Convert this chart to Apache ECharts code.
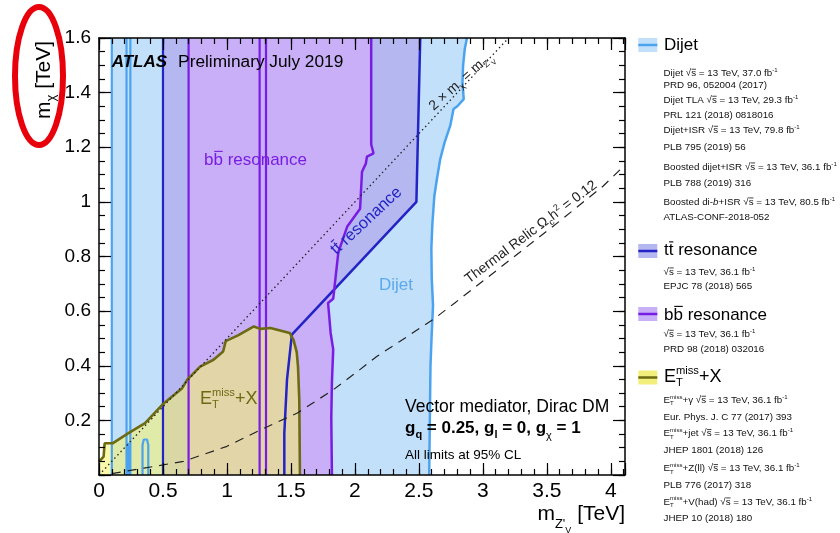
<!DOCTYPE html>
<html><head><meta charset="utf-8">
<script src="https://cdn.jsdelivr.net/npm/echarts@6/dist/echarts.min.js"></script>
<style>html,body{margin:0;padding:0;background:#fff}#c{width:840px;height:533px}</style>
</head><body><div id="c"></div>
<script>
// ---------------- data (TeV) ----------------
const X_MAX = 4.11, Y_MAX = 1.6;
const xTickMajor = 0.5, xTickMinor = 0.1, yTickMajor = 0.2, yTickMinor = 0.05;

// Dijet exclusion: right-hand contour (mZ', mchi)
const dijetEdge = [[2.875,1.6],[2.858,1.56],[2.845,1.5],[2.84,1.437],[2.85,1.376],[2.80,1.35],[2.77,1.34],[2.745,1.28],[2.70,1.217],[2.666,1.156],[2.64,1.083],[2.62,1.02],[2.605,0.92],[2.597,0.83],[2.60,0.72],[2.61,0.62],[2.60,0.52],[2.59,0.40],[2.585,0.2],[2.58,0]];
const dijetLeft = 0.1;
const dijetLinesX = [0.1, 0.215, 0.245];
const dijetLoopA = [[0.222,0],[0.222,0.1],[0.228,0.117],[0.235,0.1],[0.238,0]];
const dijetLoopB = [[0.34,0],[0.34,0.11],[0.35,0.13],[0.362,0.136],[0.375,0.13],[0.385,0.11],[0.385,0]];

// ttbar resonance
const ttLeft = 0.5;
const ttEdge = [[2.51,1.6],[2.48,1.0],[1.507,0.514],[1.469,0.349],[1.448,0.153],[1.448,0]];
const ttLinesX = [0.5];

// bbbar resonance
const bbLeft = 0.7;
const bbEdge = [[2.127,1.6],[2.127,1.21],[2.145,1.178],[2.094,1.166],[2.085,1.14],[2.055,1.11],[2.04,0.975],[1.94,0.91],[1.87,0.815],[1.85,0.73],[1.83,0.645],[1.79,0.63],[1.81,0.52],[1.83,0.46],[1.82,0.34],[1.815,0.21],[1.82,0]];
const bbLinesX = [0.7, 1.255, 1.305];

// ETmiss + X
const metEdge = [[0,0.049],[0.036,0.067],[0.044,0.116],[0.106,0.116],[0.23,0.153],[0.36,0.19],[0.505,0.262],[0.65,0.318],[0.69,0.349],[0.79,0.397],[0.895,0.422],[0.97,0.452],[0.99,0.49],[1.09,0.512],[1.21,0.544],[1.26,0.535],[1.34,0.538],[1.49,0.52],[1.52,0.495],[1.545,0.45],[1.555,0.397],[1.565,0.275],[1.57,0]];

// thermal relic curve and 2*mchi = mZ' line
const relicCurve = [[0.1,0.005],[0.35,0.025],[0.66,0.05],[1.0,0.105],[1.26,0.165],[1.55,0.227],[1.83,0.312],[2.02,0.379],[2.17,0.434],[2.35,0.489],[2.61,0.569],[2.78,0.63],[3.0,0.71],[3.3,0.82],[3.6,0.93],[3.94,1.058],[4.11,1.135]];
const kinematicLine = [[0,0],[3.2,1.6]];

// ---------------- style ----------------
const C = {
  dijetFill:'#c3e0fa', dijetLine:'#4ba3ef', dijetText:'#5aa9f0',
  ttFill:'#b5b7f1', ttLine:'#2323c6',
  bbFill:'#c8aff7', bbLine:'#7a1de4',
  metFill:'rgba(246,242,105,0.56)', metLine:'#6c6a12', metSwatch:'#f3ef7c'
};
const FONT = '"Liberation Sans", Arial, Helvetica, sans-serif';
const mctx = document.createElement('canvas').getContext('2d');
function tw(t, s, w, i) { mctx.font = (i||'normal') + ' ' + (w||'normal') + ' ' + s + 'px ' + FONT; return mctx.measureText(t).width; }

function rich(x, y, parts, o) {
  o = o || {};
  const kids = []; let cx = 0, prevStart = 0;
  parts.forEach(p => {
    if (p.gap) { cx += p.gap; return; }
    const s = p.s || o.s, w = p.w || o.w || 'normal', it = p.i || o.i || 'normal', c = p.c || o.c || '#000';
    const px = p.stack ? prevStart : cx;
    const wd = tw(p.t, s, w, it);
    const by = p.dy || 0;
    kids.push({type:'text', x:px, y:by - 0.3465*s, z:100, style:{text:p.t, font: it + ' ' + w + ' ' + s + 'px ' + FONT, fill:c, textAlign:'left', textVerticalAlign:'middle', align:'left', verticalAlign:'middle'}});
    if (p.ov) {
      const oy = by - p.ov*s;
      kids.push({type:'line', z:100, shape:{x1:px + 0.08*wd, y1:oy, x2:px + wd*0.98, y2:oy}, style:{stroke:c, lineWidth:Math.max(0.8, s*0.065)}});
    }
    if (p.stack) { cx = Math.max(cx, px + wd); } else { prevStart = px; cx = px + wd; }
  });
  let shift = 0;
  if (o.align === 'right') shift = -cx; else if (o.align === 'center') shift = -cx/2;
  kids.forEach(k => { if (k.type === 'text') k.x += shift; else { k.shape.x1 += shift; k.shape.x2 += shift; } });
  return {type:'group', x:x, y:y, rotation:(o.rot||0)*Math.PI/180, children:kids, z:100};
}
function sqrtS(s) { return [{t:'√', s:s}, {t:'s', s:s, ov:0.74}]; }
function fbInv(s) { return [{t:' fb', s:s}, {t:'-1', s:s*0.62, dy:-0.42*s}]; }
function etmiss(s) { return [{t:'E', s:s}, {t:'miss', s:s*0.62, dy:-0.45*s}, {t:'T', s:s*0.62, dy:0.22*s, stack:true}]; }

// ---------------- series builders ----------------
function polySeries(pts, fill, z) {
  return {type:'custom', data:pts, z:z, silent:true, clip:true, xAxisIndex:0, yAxisIndex:0,
    renderItem:function(params, api) {
      if (params.dataIndex !== 0) return null;
      return {type:'polygon', shape:{points:pts.map(p => api.coord(p))}, style:{fill:fill}};
    }};
}
function lineSeries(pts, color, width, z, type) {
  return {type:'line', data:pts, z:z, silent:true, symbol:'none', showSymbol:false, clip:true, xAxisIndex:0, yAxisIndex:0,
    lineStyle:{color:color, width:width, type:type||'solid', cap:'butt'}, animation:false};
}
function vline(x) { return [[x,0],[x,Y_MAX]]; }

const series = [
  polySeries([[dijetLeft,0],[dijetLeft,Y_MAX]].concat(dijetEdge), C.dijetFill, 1),
  polySeries([[ttLeft,0],[ttLeft,Y_MAX]].concat(ttEdge), C.ttFill, 2),
  polySeries([[bbLeft,0],[bbLeft,Y_MAX]].concat(bbEdge), C.bbFill, 3),
  polySeries([[0,0]].concat(metEdge), C.metFill, 4)
];
dijetLinesX.forEach(x => series.push(lineSeries(vline(x), C.dijetLine, 2.2, 5)));
series.push(lineSeries(dijetLoopA, C.dijetLine, 2.2, 5));
series.push(lineSeries(dijetLoopB, C.dijetLine, 2.2, 5));
series.push(lineSeries(dijetEdge, C.dijetLine, 2.5, 5));
ttLinesX.forEach(x => series.push(lineSeries(vline(x), C.ttLine, 2.2, 6)));
series.push(lineSeries(ttEdge, C.ttLine, 2.5, 6));
bbLinesX.forEach(x => series.push(lineSeries(vline(x), C.bbLine, 2.2, 6)));
series.push(lineSeries(bbEdge, C.bbLine, 2.5, 6));
series.push(lineSeries(metEdge, C.metLine, 2.6, 7));
series.push(lineSeries(kinematicLine, '#222', 1.3, 8, [1.5,3]));
series.push(lineSeries(relicCurve, '#222', 1.2, 8, [9,7]));

// ---------------- axes ----------------
function xAx(pos, interval, len, labels, line) {
  return {type:'value', min:0, max:X_MAX, interval:interval, position:pos, gridIndex:0, z:9,
    axisLine:{show:line, onZero:false, lineStyle:{color:'#000', width:1.5}},
    axisTick:{show:true, inside:true, length:len, lineStyle:{color:'#000', width:1.2}},
    axisLabel:{show:labels, fontSize:21, fontFamily:FONT, color:'#000', margin:6,
      formatter:function(v){ return Math.abs(v*2 - Math.round(v*2)) < 1e-6 ? String(+v.toFixed(2)) : ''; }},
    splitLine:{show:false}};
}
function yAx(pos, interval, len, labels, line) {
  return {type:'value', min:0, max:Y_MAX, interval:interval, position:pos, gridIndex:0, z:9,
    axisLine:{show:line, onZero:false, lineStyle:{color:'#000', width:1.5}},
    axisTick:{show:true, inside:true, length:len, lineStyle:{color:'#000', width:1.2}},
    axisLabel:{show:labels, fontSize:19, fontFamily:FONT, color:'#000', margin:8,
      formatter:function(v){ return v === 0 ? '' : String(+v.toFixed(2)); }},
    splitLine:{show:false}};
}

// ---------------- texts ----------------
const g = [];
// red ellipse around y title
g.push({type:'ellipse', shape:{cx:39, cy:76, rx:24, ry:69}, style:{fill:'none', stroke:'#e8000b', lineWidth:6}, z:100});
// axis titles
g.push(rich(51, 119, [{t:'m', s:21}, {t:'χ', s:13, dy:5}, {t:' [TeV]', s:21}], {rot:90}));
g.push(rich(625, 521.5, [{t:'m', s:21}, {t:"Z'", s:13, dy:7}, {t:'V', s:9, dy:12}, {t:' [TeV]', s:21}], {align:'right'}));
// header
g.push(rich(111.7, 67.8, [{t:'ATLAS', s:17, w:'bold', i:'italic'}, {gap:11}, {t:'Preliminary July 2019', s:17.3}]));
// region labels
g.push(rich(204, 166, [{t:'b', s:17}, {t:'b', s:17, ov:0.86}, {t:' resonance', s:17}], {c:C.bbLine}));
g.push(rich(379, 291, [{t:'Dijet', s:17}], {c:C.dijetText}));
g.push(rich(200, 405, etmiss(18).concat([{t:'+X', s:18}]), {c:C.metLine}));
g.push(rich(337, 256, [{t:'t', s:16.5}, {t:'t', s:16.5, ov:0.86}, {t:' resonance', s:16.5}], {c:C.ttLine, rot:43}));
g.push(rich(464, 85, [{t:'2 × m', s:14}, {t:'χ', s:9, dy:3}, {t:' = m', s:14}, {t:"Z'", s:9, dy:3}, {t:'V', s:7, dy:6}], {c:'#222', rot:42, align:'center'}));
g.push(rich(534, 236, [{t:'Thermal Relic Ω', s:14}, {t:'c', s:9, dy:3}, {t:'h', s:14}, {t:'2', s:9, dy:-6}, {t:' = 0.12', s:14}], {c:'#222', rot:37, align:'center'}));
// info block
g.push(rich(405, 413, [{t:'Vector mediator, Dirac DM', s:17.5}]));
g.push(rich(405, 434, [{t:'g', s:17, w:'bold'}, {t:'q', s:11, w:'bold', dy:5}, {t:' = 0.25, g', s:17, w:'bold'}, {t:'l', s:11, w:'bold', dy:5},
  {t:' = 0, g', s:17, w:'bold'}, {t:'χ', s:11, dy:6}, {t:' = 1', s:17, w:'bold'}]));
g.push(rich(405, 460, [{t:'All limits at 95% CL', s:13.5}]));

// legend
function swatch(cy, fill, line) {
  g.push({type:'rect', shape:{x:638.3, y:cy-7, width:19, height:14}, style:{fill:fill}, z:100});
  g.push({type:'line', shape:{x1:638.3, y1:cy, x2:657.3, y2:cy}, style:{stroke:line, lineWidth:2.5}, z:101});
}
const LX = 663.5, SS = 9.8;
function small(cy, parts) { g.push(rich(LX, cy + 3.5, parts, {s:SS, c:'#111'})); }
swatch(45, C.dijetFill, C.dijetLine);
g.push(rich(664, 51, [{t:'Dijet', s:17}]));
small(73, [{t:'Dijet ', s:SS}].concat(sqrtS(SS), [{t:' = 13 TeV, 37.0', s:SS}], fbInv(SS)));
small(85, [{t:'PRD 96, 052004 (2017)', s:SS}]);
small(100, [{t:'Dijet TLA ', s:SS}].concat(sqrtS(SS), [{t:' = 13 TeV, 29.3', s:SS}], fbInv(SS)));
small(115, [{t:'PRL 121 (2018) 0818016', s:SS}]);
small(130, [{t:'Dijet+ISR ', s:SS}].concat(sqrtS(SS), [{t:' = 13 TeV, 79.8', s:SS}], fbInv(SS)));
small(146.7, [{t:'PLB 795 (2019) 56', s:SS}]);
small(166.7, [{t:'Boosted dijet+ISR ', s:SS}].concat(sqrtS(SS), [{t:' = 13 TeV, 36.1', s:SS}], fbInv(SS)));
small(183, [{t:'PLB 788 (2019) 316', s:SS}]);
small(201.7, [{t:'Boosted di-', s:SS}, {t:'b', s:SS, i:'italic'}, {t:'+ISR ', s:SS}].concat(sqrtS(SS), [{t:' = 13 TeV, 80.5', s:SS}], fbInv(SS)));
small(216.7, [{t:'ATLAS-CONF-2018-052', s:SS}]);

swatch(251, C.ttFill, C.ttLine);
g.push(rich(664, 256.5, [{t:'t', s:17}, {t:'t', s:17, ov:0.86}, {t:' resonance', s:17}]));
small(271.7, sqrtS(SS).concat([{t:' = 13 TeV, 36.1', s:SS}], fbInv(SS)));
small(285.7, [{t:'EPJC 78 (2018) 565', s:SS}]);

swatch(314, C.bbFill, C.bbLine);
g.push(rich(664, 321, [{t:'b', s:17}, {t:'b', s:17, ov:0.86}, {t:' resonance', s:17}]));
small(334, sqrtS(SS).concat([{t:' = 13 TeV, 36.1', s:SS}], fbInv(SS)));
small(349, [{t:'PRD 98 (2018) 032016', s:SS}]);

swatch(377.5, C.metSwatch, C.metLine);
g.push(rich(664, 383.3, etmiss(18).concat([{t:'+X', s:18}])));
small(400, etmiss(SS).concat([{t:'+γ ', s:SS}], sqrtS(SS), [{t:' = 13 TeV, 36.1', s:SS}], fbInv(SS)));
small(416.7, [{t:'Eur. Phys. J. C 77 (2017) 393', s:SS}]);
small(433.3, etmiss(SS).concat([{t:'+jet ', s:SS}], sqrtS(SS), [{t:' = 13 TeV, 36.1', s:SS}], fbInv(SS)));
small(450, [{t:'JHEP 1801 (2018) 126', s:SS}]);
small(468.3, etmiss(SS).concat([{t:'+Z(ll) ', s:SS}], sqrtS(SS), [{t:' = 13 TeV, 36.1', s:SS}], fbInv(SS)));
small(485, [{t:'PLB 776 (2017) 318', s:SS}]);
small(501.7, etmiss(SS).concat([{t:'+V(had) ', s:SS}], sqrtS(SS), [{t:' = 13 TeV, 36.1', s:SS}], fbInv(SS)));
small(518.3, [{t:'JHEP 10 (2018) 180', s:SS}]);

const option = {
  animation:false,
  backgroundColor:'#ffffff',
  grid:{left:99, right:215, top:38, bottom:58, show:false},
  xAxis:[xAx('bottom', xTickMajor, 12, true, true), xAx('bottom', xTickMinor, 6, false, false),
         xAx('top', xTickMajor, 12, false, true), xAx('top', xTickMinor, 6, false, false)],
  yAxis:[yAx('left', yTickMajor, 12, true, true), yAx('left', yTickMinor, 6, false, false),
         yAx('right', yTickMajor, 12, false, true), yAx('right', yTickMinor, 6, false, false)],
  series:series,
  graphic:g
};
const chart = echarts.init(document.getElementById('c'), null, {renderer:'canvas'});
chart.setOption(option);
</script></body></html>
